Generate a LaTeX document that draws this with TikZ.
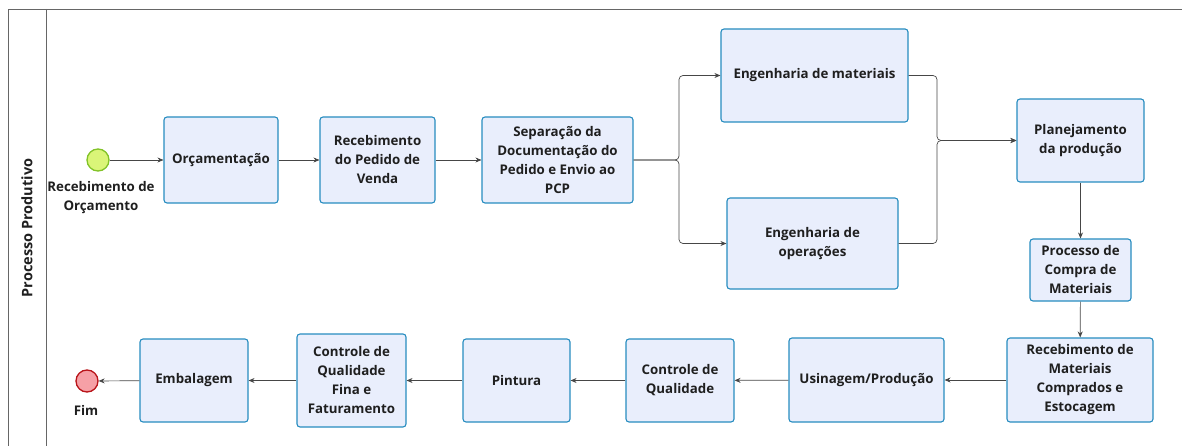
\documentclass[tikz,border=0pt]{standalone}
\usepackage{fontspec}
\setmainfont{Open Sans}
\usetikzlibrary{arrows.meta,positioning}

\definecolor{boxfundo}{RGB}{233,238,252}
\definecolor{boxborda}{RGB}{38,140,192}
\definecolor{linha}{RGB}{70,70,70}
\definecolor{iniciofundo}{RGB}{218,245,120}
\definecolor{inicioborda}{RGB}{130,195,40}
\definecolor{fimfundo}{RGB}{246,160,166}
\definecolor{fimborda}{RGB}{185,20,25}

\tikzset{
  tarefa/.style={draw=boxborda, fill=boxfundo, line width=1.1pt, rounded corners=3pt,
    align=center, text=black!88, font=\bfseries\fontsize{13.3}{19}\selectfont, inner sep=2pt},
  evento/.style={circle, line width=1.3pt, minimum size=22pt, inner sep=0pt},
  rotulo/.style={align=center, text=black!88, font=\bfseries\fontsize{13.3}{19}\selectfont},
  fluxo/.style={draw=linha, line width=0.7pt, -{Stealth[length=6pt,width=5pt]}},
}

\begin{document}
\begin{tikzpicture}[x=1pt,y=-1pt]
    \useasboundingbox (0,0) rectangle (1182,446);
    % raia
    \draw[gray!80!black, line width=0.9pt] (8,446) -- (8,9) -- (1182,9);
    \draw[gray!80!black, line width=0.9pt] (46,9) -- (46,446);
    \node[rotate=90, rotulo, font=\bfseries\fontsize{14.5}{19}\selectfont] (raia) at (27,228) {Processo Produtivo};

    % eventos
    \node[evento, draw=inicioborda, fill=iniciofundo] (inicio) at (98,160) {};
    \node[rotulo] (inicioTxt) at (101,198) {Recebimento de\\Orçamento};
    \node[evento, draw=fimborda, fill=fimfundo] (fim) at (87,381) {};
    \node[rotulo] (fimTxt) at (86,410) {Fim};

    % tarefas de cima
    \node[tarefa, minimum width=114pt, minimum height=86pt] (orc) at (221,160) {Orçamentação};
    \node[tarefa, minimum width=115pt, minimum height=86pt] (ped) at (377.5,160) {Recebimento\\do Pedido de\\Venda};
    \node[tarefa, minimum width=151pt, minimum height=86pt] (sep) at (557.5,160) {Separação da\\Documentação do\\Pedido e Envio ao\\PCP};
    \node[tarefa, minimum width=187pt, minimum height=93pt] (engmat) at (814.5,75.5) {Engenharia de materiais};
    \node[tarefa, minimum width=171pt, minimum height=91pt] (engop) at (812.5,243.5) {Engenharia de\\operações};
    \node[tarefa, minimum width=127pt, minimum height=83pt] (plan) at (1080.5,140.5) {Planejamento\\da produção};
    \node[tarefa, minimum width=101pt, minimum height=62pt] (compra) at (1080.5,270) {Processo de\\Compra de\\Materiais};

    % tarefas de baixo
    \node[tarefa, minimum width=146pt, minimum height=84pt] (receb) at (1080,380) {Recebimento de\\Materiais\\Comprados e\\Estocagem};
    \node[tarefa, minimum width=155pt, minimum height=84pt] (usin) at (866.5,380) {Usinagem/Produção};
    \node[tarefa, minimum width=108pt, minimum height=83pt] (cq) at (680,380.5) {Controle de\\Qualidade};
    \node[tarefa, minimum width=107pt, minimum height=83pt] (pint) at (516.5,380.5) {Pintura};
    \node[tarefa, minimum width=109pt, minimum height=93pt] (cqf) at (351.5,380.5) {Controle de\\Qualidade\\Fina e\\Faturamento};
    \node[tarefa, minimum width=108pt, minimum height=83pt] (emb) at (194,380.5) {Embalagem};

    % pontos de divisao e juncao
    \coordinate (div) at (679,160);
    \coordinate (jun) at (937,140.5);

    % fluxos
    \draw[fluxo] (inicio) -- (orc);
    \draw[fluxo] (orc) -- (ped);
    \draw[fluxo] (ped) -- (sep);
    \draw[fluxo, rounded corners=4pt] (sep.east) -- (div) |- (engmat.west);
    \draw[fluxo, rounded corners=4pt] (sep.east) -- (div) |- (engop.west);
    \draw[fluxo, rounded corners=4pt] (engmat.east) -| (jun) -- (plan.west);
    \draw[fluxo, rounded corners=4pt] (engop.east) -| (jun) -- (plan.west);
    \draw[fluxo] (plan) -- (compra);
    \draw[fluxo] (compra) -- (receb);
    \draw[fluxo] (receb) -- (usin);
    \draw[fluxo] (usin) -- (cq);
    \draw[fluxo] (cq) -- (pint);
    \draw[fluxo] (pint) -- (cqf);
    \draw[fluxo] (cqf) -- (emb);
    \draw[fluxo] (emb) -- (fim);
\end{tikzpicture}
\end{document}
